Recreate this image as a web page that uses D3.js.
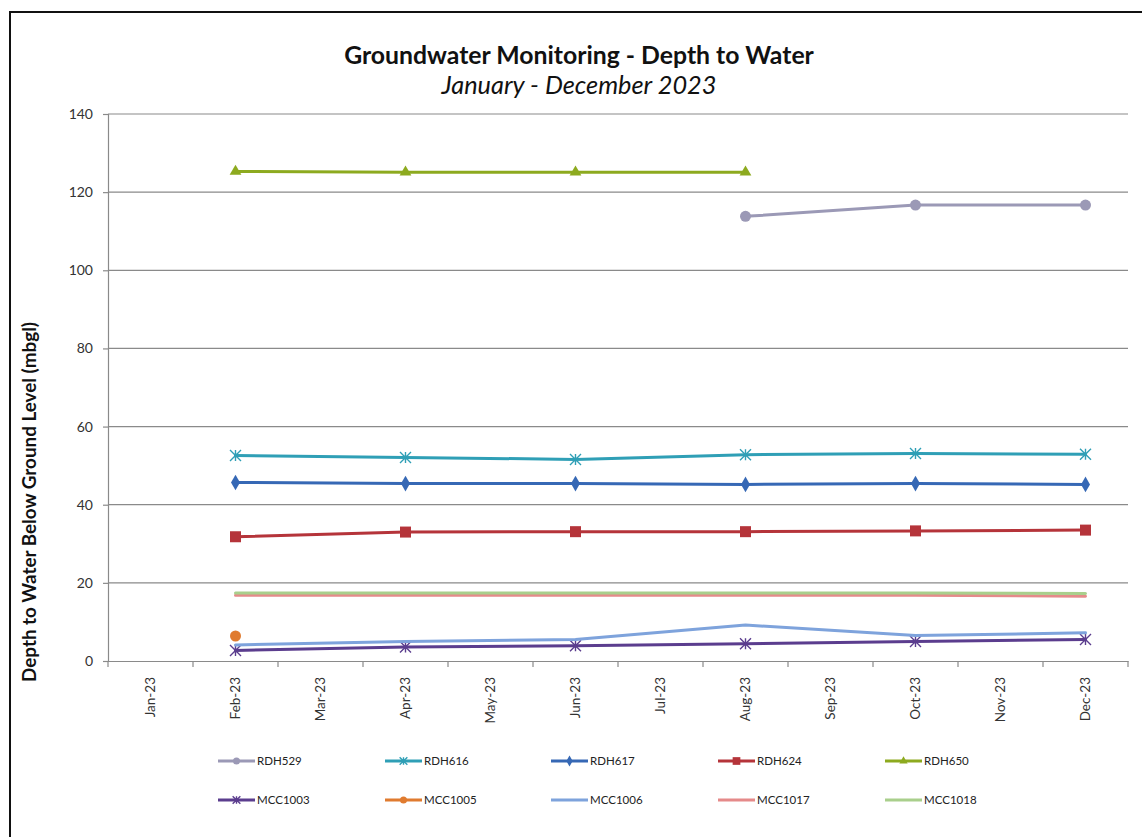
<!DOCTYPE html>
<html>
<head>
<meta charset="utf-8">
<script src="https://cdn.jsdelivr.net/npm/d3@7"></script>
<style>
  html, body { margin: 0; padding: 0; background: #fff; }
  svg { display: block; }
  text { font-family: Lato, "Open Sans", "DejaVu Sans", sans-serif; }
</style>
</head>
<body>
<svg id="chart" width="1142" height="837"></svg>
<script>
// ---------- data ----------
const months = ["Jan-23","Feb-23","Mar-23","Apr-23","May-23","Jun-23","Jul-23","Aug-23","Sep-23","Oct-23","Nov-23","Dec-23"];
const sampleMonths = ["Feb-23","Apr-23","Jun-23","Aug-23","Oct-23","Dec-23"];
const yTicks = [0,20,40,60,80,100,120,140];

const seriesNames = ["RDH529","RDH616","RDH617","RDH624","RDH650","MCC1003","MCC1005","MCC1006","MCC1017","MCC1018"];
const rdh529  = [null, null, null, 113.8, 116.7, 116.7];
const rdh616  = [52.6, 52.1, 51.6, 52.8, 53.1, 52.9];
const rdh617  = [45.7, 45.4, 45.4, 45.2, 45.4, 45.2];
const rdh624  = [31.8, 33.0, 33.1, 33.1, 33.3, 33.5];
const rdh650  = [125.3, 125.1, 125.1, 125.1, null, null];
const mcc1003 = [2.7, 3.6, 3.9, 4.4, 5.0, 5.5];
const mcc1005 = [6.4, null, null, null, null, null];
const mcc1006 = [4.1, 5.0, 5.5, 9.2, 6.5, 7.2];
const mcc1017 = [16.8, 16.8, 16.8, 16.8, 16.8, 16.6];
const mcc1018 = [17.4, 17.4, 17.4, 17.4, 17.4, 17.3];

const seriesValues = [rdh529, rdh616, rdh617, rdh624, rdh650, mcc1003, mcc1005, mcc1006, mcc1017, mcc1018];
const seriesColors = ["#9b99b6","#2f9fb6","#3668b5","#b5343a","#8daa1f","#5b3d8e","#e07b2f","#7ea3dc","#e58a8a","#a9cf8c"];
const seriesMarkers = ["circle","star","diamond","square","triangle","star","circle","none","none","none"];

const series = seriesNames.map((n,i) => ({
  name: n, color: seriesColors[i], marker: seriesMarkers[i],
  points: sampleMonths.map((m,j) => ({m, v: seriesValues[i][j]})).filter(p => p.v !== null)
}));

// ---------- layout ----------
const svg = d3.select("#chart");
const L = 108, R = 1128, T = 114, B = 661;

// outer frame
svg.append("rect").attr("x",10).attr("y",12).attr("width",1142).attr("height",840)
  .attr("fill","#fff").attr("stroke","#111").attr("stroke-width",2);

const x = d3.scaleBand().domain(months).range([L, R]).padding(0);
const xc = m => x(m) + x.bandwidth()/2;
const y = d3.scaleLinear().domain([0,140]).range([B, T]);

// gridlines
svg.append("g").selectAll("line").data(yTicks.filter(t => t > 0)).join("line")
  .attr("x1", L).attr("x2", R).attr("y1", d => y(d)).attr("y2", d => y(d))
  .attr("stroke","#8a8a8a").attr("stroke-width",1.2);

// y axis
const yAxis = d3.axisLeft(y).tickValues(yTicks).tickSize(5).tickPadding(10);
const gy = svg.append("g").attr("transform",`translate(${L},0)`).call(yAxis);
gy.select(".domain").attr("stroke","#8a8a8a").attr("stroke-width",1.2);
gy.selectAll(".tick line").attr("stroke","#8a8a8a").attr("stroke-width",1.2);
gy.selectAll(".tick text").attr("font-size",14).attr("fill","#333").attr("font-family","Lato, sans-serif");

// x axis
const xAxis = d3.axisBottom(x).tickSize(0).tickPadding(0);
const gx = svg.append("g").attr("transform",`translate(0,${B})`).call(xAxis);
gx.select(".domain").attr("stroke","#8a8a8a").attr("stroke-width",1.2);
gx.selectAll(".tick text")
  .attr("font-size",13.5).attr("fill","#333").attr("font-family","Lato, sans-serif")
  .attr("text-anchor","end")
  .attr("transform","rotate(-90)")
  .attr("x",-16).attr("y",0).attr("dy","0.35em");
// boundary ticks
const bounds = months.map(m => x(m)).concat([R]);
svg.append("g").selectAll("line").data(bounds).join("line")
  .attr("x1", d => d).attr("x2", d => d).attr("y1", B).attr("y2", B + 6)
  .attr("stroke","#8a8a8a").attr("stroke-width",1.2);

// marker drawing
function drawMarker(g, type, color, size) {
  const s = size;
  if (type === "circle") {
    g.append("circle").attr("r", s*0.5).attr("fill", color);
  } else if (type === "diamond") {
    g.append("path").attr("d", d3.symbol(d3.symbolDiamond, s*s*0.7)()).attr("fill", color);
  } else if (type === "square") {
    g.append("rect").attr("x",-s*0.55).attr("y",-s*0.55).attr("width",s*1.1).attr("height",s*1.1).attr("fill",color);
  } else if (type === "triangle") {
    g.append("path").attr("d", d3.symbol(d3.symbolTriangle, s*s*0.6)()).attr("fill", color);
  } else if (type === "star") {
    const h = s*0.55;
    g.append("path").attr("d", `M${-h},${-h}L${h},${h}M${-h},${h}L${h},${-h}M0,${-h}L0,${h}`)
      .attr("stroke", color).attr("stroke-width", 1.4).attr("fill","none");
  }
}

// lines
const line = d3.line().x(d => xc(d.m)).y(d => y(d.v));
const gS = svg.append("g");
series.forEach(s => {
  gS.append("path").datum(s.points).attr("d", line)
    .attr("fill","none").attr("stroke", s.color).attr("stroke-width", 3)
    .attr("stroke-linejoin","round").attr("stroke-linecap","round");
  s.points.forEach(p => {
    const g = gS.append("g").attr("transform", `translate(${xc(p.m)},${y(p.v)})`);
    drawMarker(g, s.marker, s.color, s.marker === "circle" ? 11 : 10);
  });
});

// fit text to a target width by adjusting font size
function fit(sel, target) {
  const fs = parseFloat(sel.attr("font-size"));
  const w = sel.node().getComputedTextLength();
  if (w > 0) sel.attr("font-size", fs * target / w);
  return sel;
}

// titles
const t1 = svg.append("text").attr("x", 579).attr("y", 64).attr("text-anchor","middle")
  .attr("font-size", 21).attr("font-weight","bold").attr("fill","#111")
  .attr("font-family","'Open Sans', Lato, sans-serif")
  .text("Groundwater Monitoring - Depth to Water");
fit(t1, 470);
const t2 = svg.append("text").attr("x", 579).attr("y", 94).attr("text-anchor","middle")
  .attr("font-size", 20).attr("font-style","italic").attr("fill","#111")
  .attr("font-family","'Open Sans', Lato, sans-serif")
  .text("January - December 2023");
fit(t2, 275);
const t3 = svg.append("text").attr("transform","translate(36,502) rotate(-90)").attr("text-anchor","middle")
  .attr("font-size", 15).attr("font-weight","bold").attr("fill","#111")
  .attr("font-family","'Open Sans', Lato, sans-serif")
  .text("Depth to Water Below Ground Level (mbgl)");
fit(t3, 360);

// legend
const legCols = [218, 385, 551, 718, 885];
const legRows = [761, 800];
series.forEach((s,i) => {
  const lx = legCols[i % 5], ly = legRows[Math.floor(i/5)];
  const g = svg.append("g").attr("transform", `translate(${lx},${ly})`);
  g.append("line").attr("x1",0).attr("x2",37).attr("y1",0).attr("y2",0)
    .attr("stroke", s.color).attr("stroke-width",3);
  const mg = g.append("g").attr("transform","translate(18.5,0)");
  drawMarker(mg, s.marker, s.color, 7);
  g.append("text").attr("x",39).attr("y",0).attr("dy","0.35em")
    .attr("font-size",11.5).attr("fill","#222").text(s.name);
});
</script>
</body>
</html>
